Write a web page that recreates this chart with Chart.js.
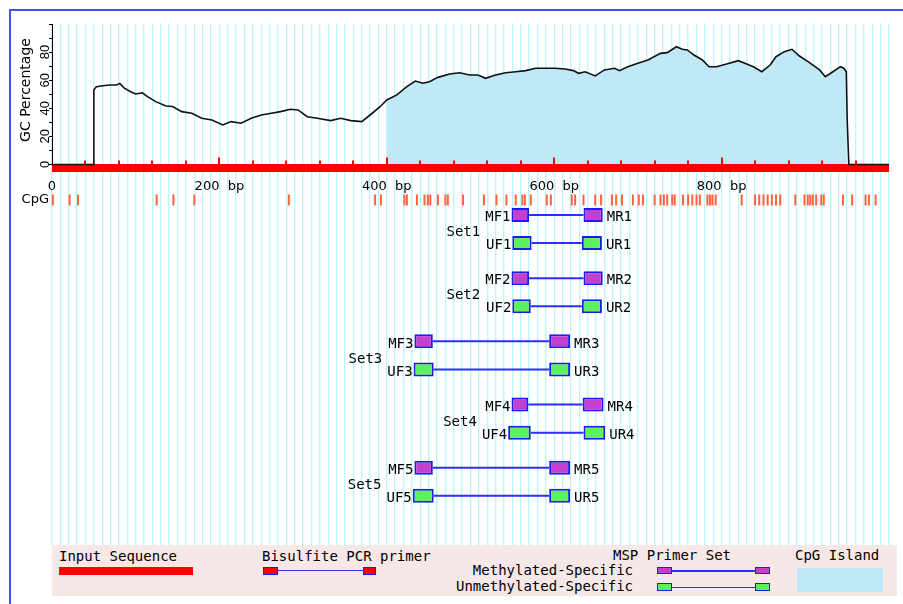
<!DOCTYPE html>
<html>
<head>
<meta charset="utf-8">
<title>MSP primer map</title>
<script src="https://cdn.jsdelivr.net/npm/chart.js@4.4.1/dist/chart.umd.min.js"></script>
<style>
  html, body { margin: 0; padding: 0; background: #fff; overflow: hidden; }
  #page { position: relative; width: 903px; height: 604px; }
  #frame { position: absolute; left: 9px; top: 9px; width: 900px; height: 600px;
           border-top: 2px solid #4b4bff; border-left: 2px solid #4b4bff; }
  #gcChart { position: absolute; left: 0; top: 0; }
  #legend { position: absolute; left: 52px; top: 545px; width: 845px; height: 51px;
            background: #f6e8e7; font: 14px "DejaVu Sans Mono", monospace; color: #000; }
  #legend .txt { position: absolute; line-height: 14px; white-space: pre; }
  #legend .blk { position: absolute; box-sizing: border-box; }
</style>
</head>
<body>
<div id="page">
  <div id="frame"></div>
  <canvas id="gcChart" width="903" height="604"></canvas>
  <div id="legend">
    <span class="txt" style="left:7px; top:4px">Input Sequence</span>
    <div class="blk" style="left:7px; top:22px; width:134px; height:8px; background:#ff0000"></div>

    <span class="txt" style="left:210px; top:4px">Bisulfite PCR primer</span>
    <div class="blk" style="left:226px; top:25px; width:85px; height:1px; background:#2e2eff"></div>
    <div class="blk" style="left:211px; top:22px; width:15px; height:8px; background:#ff0000; border:1.5px solid #1c1cf0"></div>
    <div class="blk" style="left:311px; top:22px; width:13px; height:8px; background:#ff0000; border:1.5px solid #1c1cf0"></div>

    <span class="txt" style="left:561px; top:3px">MSP Primer Set</span>
    <span class="txt" style="right:264px; top:18px">Methylated-Specific</span>
    <span class="txt" style="right:264px; top:34px">Unmethylated-Specific</span>
    <div class="blk" style="left:620px; top:25px; width:83px; height:1.5px; background:#2e2eff"></div>
    <div class="blk" style="left:605px; top:22px; width:15px; height:7px; background:#c23fcf; border:1.5px solid #1c1cf0"></div>
    <div class="blk" style="left:703px; top:22px; width:15px; height:7px; background:#c23fcf; border:1.5px solid #1c1cf0"></div>
    <div class="blk" style="left:620px; top:41.5px; width:83px; height:1.5px; background:#2e2eff"></div>
    <div class="blk" style="left:605px; top:38px; width:15px; height:8px; background:#5cf25c; border:1.5px solid #1c1cf0"></div>
    <div class="blk" style="left:703px; top:38px; width:15px; height:8px; background:#5cf25c; border:1.5px solid #1c1cf0"></div>

    <span class="txt" style="left:743px; top:3px">CpG Island</span>
    <div class="blk" style="left:745px; top:23px; width:86px; height:24px; background:#bfe9f7"></div>
  </div>
</div>

<script>
// Sequence / axis values
const seqLength = 1000;
const xLabelValues = [0, 200, 400, 600, 800];
const yLabelValues = [0, 20, 40, 60, 80];

// GC percentage curve (bp position -> %GC)
const gcPositions = [0, 49, 50, 53, 61, 69, 77, 81, 86, 94,
  100, 108, 114, 124, 136, 144, 155, 167, 179, 191,
  204, 214, 226, 238, 250, 262, 273, 285, 294, 305,
  317, 333, 345, 357, 370, 380, 392, 400, 412, 424,
  434, 443, 451, 461, 475, 487, 499, 509, 518, 530,
  542, 554, 566, 578, 589, 601, 613, 623, 629, 637,
  649, 660, 672, 678, 688, 700, 712, 727, 735, 746,
  753, 759, 767, 777, 785, 794, 806, 820, 830, 838,
  848, 858, 865, 875, 884, 893, 905, 917, 924, 933,
  942, 946, 949, 950, 952, 1000];
const gcValues = [0, 0, 53, 55.4, 56, 56.6, 56.6, 57.6, 54.5, 51.8,
  50.2, 51, 48.3, 44.7, 41.6, 41.3, 37.6, 36.4, 32.9, 31.7,
  28.1, 30.5, 29.3, 32.9, 35.2, 36.4, 37.6, 39.3, 38.8, 34,
  32.9, 31.2, 32.9, 31.2, 30.5, 35.2, 41.1, 45.9, 49.5, 55.4,
  59.4, 57.8, 58.9, 62, 64.4, 65.3, 63.7, 63.7, 61.3, 63.7,
  65.3, 66, 66.8, 68.5, 68.5, 68.5, 68, 66.8, 64.9, 66,
  63, 67.3, 68.5, 66.8, 69.6, 72, 74.4, 79.1, 79.6, 83.8,
  82, 81.5, 77.9, 74.4, 69.6, 69.6, 71.5, 73.9, 71.5, 69.6,
  66, 70.8, 76.7, 80.3, 82, 77.2, 72.5, 67.3, 62.5, 66,
  69.6, 68.5, 66, 32.9, 0, 0];

// CpG island and CpG sites
const islandRange = [398, 949];
const cpgSites = [1, 21, 31, 125, 145, 170, 283, 386, 393, 421, 424, 436, 445, 449, 452,
  461, 470, 473, 491, 516, 531, 543, 554, 562, 565, 572, 591, 596, 621, 625, 635,
  649, 656, 669, 674, 681, 694, 701, 706, 720, 727, 731, 735, 741, 744, 754, 760,
  765, 770, 774, 783, 786, 789, 793, 824, 840, 845, 850, 855, 860, 865, 870, 888,
  899, 903, 906, 909, 913, 919, 922, 945, 956, 972, 976, 984];

// MSP primer sets: [start, end] in bp
const setNames = ['Set1', 'Set2', 'Set3', 'Set4', 'Set5'];
const methFwd = [[549, 570], [549, 570], [433, 455], [549, 569], [433, 455]];
const methRev = [[635, 658], [635, 658], [594, 619], [634, 659], [594, 619]];
const unmethFwd = [[550, 573], [550, 572], [432, 456], [545, 572], [431, 456]];
const unmethRev = [[633, 657], [633, 657], [594, 619], [635, 661], [594, 619]];

// Vertical layout of the lower panel, in units of the GC axis
const SEQ_BAR_Y = -2.5;
const CPG_ROW = -25.3;
const FIRST_ROW = -36;
const SET_GAP = 45;
const PAIR_GAP = 20;
const mRow = i => FIRST_ROW - SET_GAP * i;
const uRow = i => mRow(i) - PAIR_GAP;

const gcPoints = gcPositions.map((p, i) => ({ x: p, y: gcValues[i] }));
const islandPoints = gcPoints.filter(p => p.x >= islandRange[0] && p.x <= islandRange[1]);
const cpgPoints = cpgSites.map(p => ({ x: p, y: CPG_ROW }));

const methBoxes = [];
const unmethBoxes = [];
const connectors = [];
setNames.forEach((name, i) => {
    methBoxes.push({ x: methFwd[i], y: mRow(i) }, { x: methRev[i], y: mRow(i) });
    unmethBoxes.push({ x: unmethFwd[i], y: uRow(i) }, { x: unmethRev[i], y: uRow(i) });
    connectors.push({ x: methFwd[i][1], y: mRow(i) }, { x: methRev[i][0], y: mRow(i) }, { x: methRev[i][0], y: null });
    connectors.push({ x: unmethFwd[i][1], y: uRow(i) }, { x: unmethRev[i][0], y: uRow(i) }, { x: unmethRev[i][0], y: null });
});

// Extra drawing: axis line, ruler ticks, row labels
const annotate = {
    id: 'annotate',
    afterDatasetsDraw(chart) {
        const { ctx, chartArea } = chart;
        const xs = chart.scales.x;
        const ys = chart.scales.y;
        ctx.save();

        // GC axis line only spans 0..100
        const axisX = Math.round(chartArea.left) + 0.5;
        ctx.strokeStyle = '#000';
        ctx.lineWidth = 1;
        ctx.beginPath();
        ctx.moveTo(axisX, ys.getPixelForValue(0));
        ctx.lineTo(axisX, ys.getPixelForValue(100));
        ctx.stroke();

        // red ruler ticks on the sequence bar
        const barTop = ys.getPixelForValue(0);
        ctx.strokeStyle = '#ff0000';
        ctx.lineWidth = 2;
        for (let v = 40; v < seqLength; v += 40) {
            const px = Math.round(xs.getPixelForValue(v));
            ctx.beginPath();
            ctx.moveTo(px, barTop);
            ctx.lineTo(px, barTop - (v % 200 === 0 ? 7 : 4));
            ctx.stroke();
        }

        ctx.fillStyle = '#000';
        ctx.textBaseline = 'middle';

        // axis title
        ctx.save();
        ctx.font = '14px "DejaVu Sans"';
        ctx.textAlign = 'center';
        ctx.translate(26, ys.getPixelForValue(53));
        ctx.rotate(-Math.PI / 2);
        ctx.fillText('GC Percentage', 0, 0);
        ctx.restore();

        // CpG row label
        ctx.font = '13px "DejaVu Sans"';
        ctx.textAlign = 'right';
        ctx.fillText('CpG', chartArea.left - 3, ys.getPixelForValue(CPG_ROW));

        // primer labels
        ctx.font = '14px "DejaVu Sans Mono"';
        setNames.forEach((name, i) => {
            const n = i + 1;
            const rows = [
                { y: mRow(i), f: methFwd[i], r: methRev[i], fl: 'MF' + n, rl: 'MR' + n },
                { y: uRow(i), f: unmethFwd[i], r: unmethRev[i], fl: 'UF' + n, rl: 'UR' + n }
            ];
            let leftMost = Infinity;
            rows.forEach(row => {
                const py = ys.getPixelForValue(row.y) + 2.5;
                const fx = xs.getPixelForValue(row.f[0]) - 1;
                ctx.textAlign = 'right';
                ctx.fillText(row.fl, fx, py);
                leftMost = Math.min(leftMost, fx - ctx.measureText(row.fl).width);
                ctx.textAlign = 'left';
                ctx.fillText(row.rl, xs.getPixelForValue(row.r[1]) + 4, py);
            });
            ctx.textAlign = 'right';
            const midY = (ys.getPixelForValue(mRow(i)) + ys.getPixelForValue(uRow(i))) / 2 + 3.5;
            ctx.fillText(name, leftMost - 5, midY);
        });
        ctx.restore();
    }
};

const boxStyle = {
    type: 'bar',
    indexAxis: 'y',
    borderColor: '#1c1cf0',
    borderWidth: 2,
    borderSkipped: false,
    barThickness: 14,
    grouped: false,
    inflateAmount: 0,
    order: 1
};

new Chart(document.getElementById('gcChart'), {
    type: 'line',
    data: {
        datasets: [
            {
                label: 'CpG Island',
                data: islandPoints,
                fill: 'origin',
                backgroundColor: '#bfe9f7',
                borderColor: 'rgba(0,0,0,0)',
                borderWidth: 0,
                pointRadius: 0,
                order: 6
            },
            {
                label: 'Input Sequence',
                data: [{ x: 0, y: SEQ_BAR_Y }, { x: seqLength, y: SEQ_BAR_Y }],
                borderColor: '#ff0000',
                borderWidth: 8,
                borderCapStyle: 'butt',
                pointRadius: 0,
                order: 5
            },
            {
                label: 'GC Percentage',
                data: gcPoints,
                borderColor: '#111',
                borderWidth: 1.6,
                pointRadius: 0,
                tension: 0,
                order: 4
            },
            {
                label: 'CpG',
                data: cpgPoints,
                showLine: false,
                pointStyle: 'line',
                pointRotation: 90,
                pointRadius: 5.5,
                pointBorderColor: '#ff6440',
                pointBorderWidth: 2,
                clip: false,
                order: 3
            },
            {
                label: 'links',
                data: connectors,
                borderColor: '#2e2eff',
                borderWidth: 2,
                pointRadius: 0,
                spanGaps: false,
                order: 2
            },
            Object.assign({ label: 'Methylated-Specific', data: methBoxes, backgroundColor: '#c23fcf' }, boxStyle),
            Object.assign({ label: 'Unmethylated-Specific', data: unmethBoxes, backgroundColor: '#5cf25c' }, boxStyle)
        ]
    },
    options: {
        responsive: false,
        animation: false,
        events: [],
        layout: { padding: { left: 10, top: 24, right: 6, bottom: 59 } },
        plugins: {
            legend: { display: false },
            tooltip: { enabled: false }
        },
        scales: {
            x: {
                type: 'linear',
                min: 0,
                max: seqLength,
                position: { y: 0 },
                offset: false,
                afterBuildTicks: scale => {
                    const ticks = [];
                    for (let v = 0; v <= seqLength; v += 10) ticks.push({ value: v });
                    scale.ticks = ticks;
                },
                grid: { color: '#bff4f8', lineWidth: 1.4, drawTicks: false, offset: false },
                border: { display: false },
                ticks: {
                    autoSkip: false,
                    maxRotation: 0,
                    minRotation: 0,
                    padding: 14,
                    color: '#000',
                    font: { family: 'DejaVu Sans', size: 13 },
                    callback: v => xLabelValues.includes(v) ? (v === 0 ? '0' : v + '  bp') : ''
                }
            },
            y: {
                type: 'linear',
                min: -271,
                max: 100,
                position: 'left',
                offset: false,
                afterFit: scale => { scale.width = 42; },
                afterBuildTicks: scale => {
                    const ticks = [];
                    for (let v = 0; v <= 100; v += 10) ticks.push({ value: v });
                    scale.ticks = ticks;
                },
                grid: { drawOnChartArea: false, drawTicks: true, tickLength: 3, color: '#000', offset: false },
                border: { display: false },
                ticks: {
                    autoSkip: false,
                    minRotation: 90,
                    maxRotation: 90,
                    crossAlign: 'center',
                    padding: -4,
                    color: '#000',
                    font: { family: 'Liberation Sans', size: 13 },
                    callback: v => yLabelValues.includes(v) ? String(v) : ''
                }
            }
        }
    },
    plugins: [annotate]
});
</script>
</body>
</html>
